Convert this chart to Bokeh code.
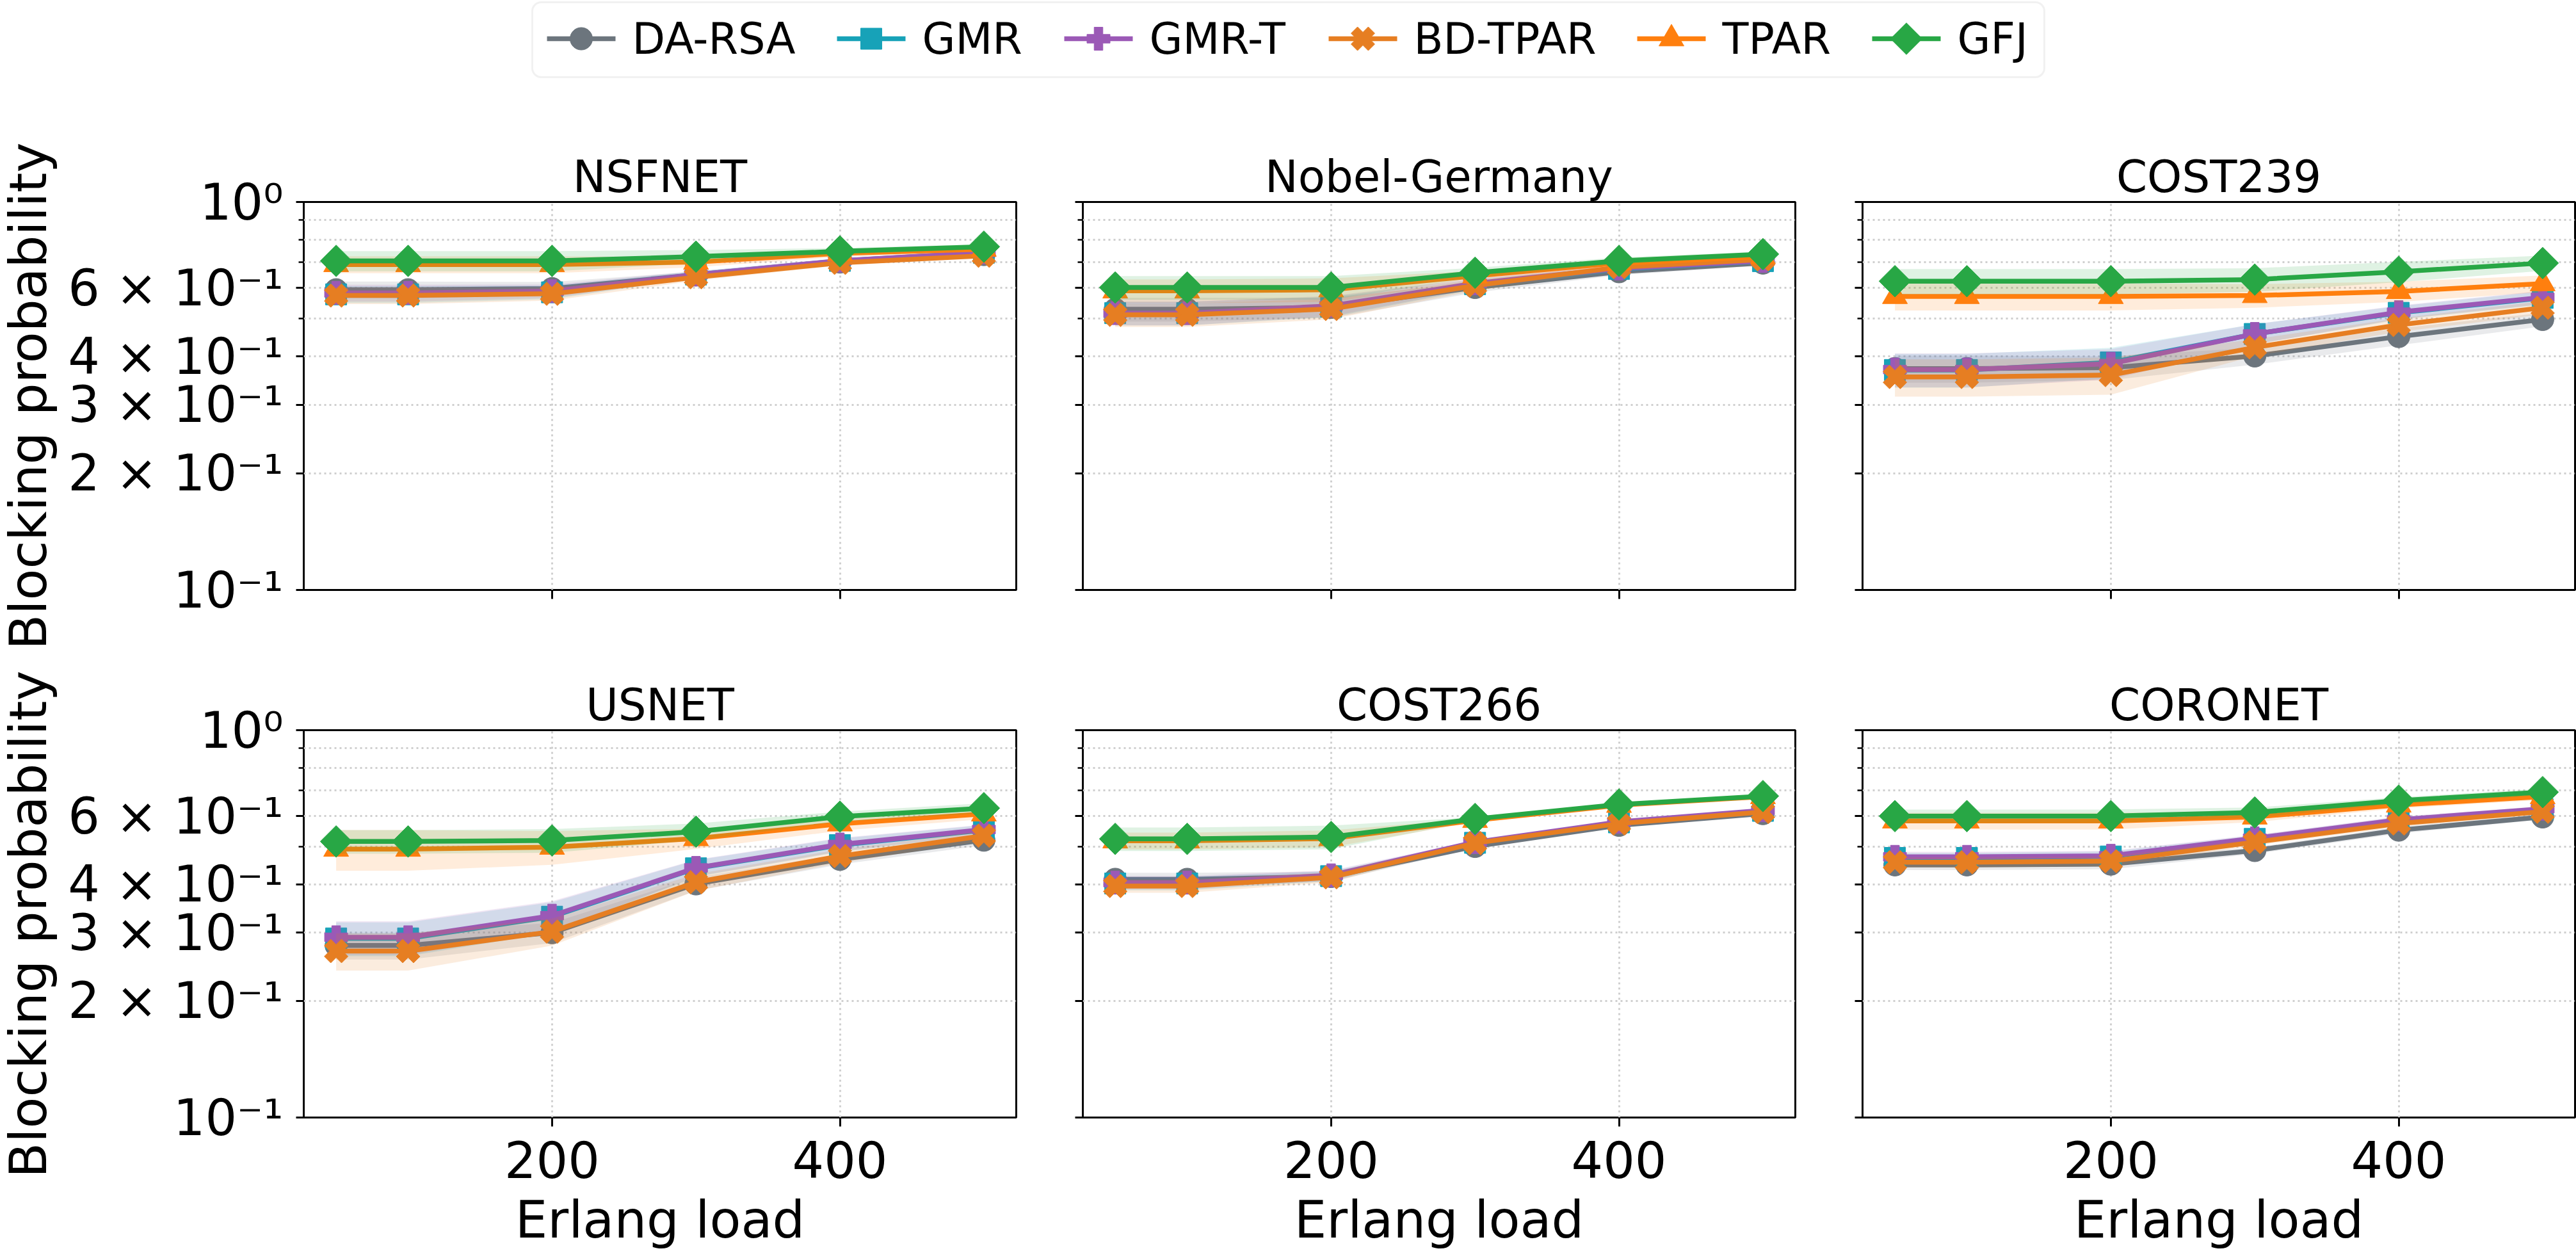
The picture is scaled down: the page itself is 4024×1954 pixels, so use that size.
from math import pi

from bokeh.core.properties import value
from bokeh.embed import file_html
from bokeh.layouts import column, row
from bokeh.models import BoxAnnotation, FixedTicker, Range1d
from bokeh.plotting import figure
from bokeh.resources import INLINE

# ---------------------------------------------------------------- data
loads = [50, 100, 200, 300, 400, 500]
methods = ["DA-RSA", "GMR", "GMR-T", "BD-TPAR", "TPAR", "GFJ"]
topologies = ["NSFNET", "Nobel-Germany", "COST239", "USNET", "COST266", "CORONET"]

# mean blocking probability per method
nsfnet = {
    "DA-RSA": [0.594, 0.594, 0.598, 0.649, 0.700, 0.732],
    "GMR": [0.578, 0.578, 0.585, 0.650, 0.705, 0.740],
    "GMR-T": [0.583, 0.583, 0.589, 0.650, 0.706, 0.741],
    "BD-TPAR": [0.574, 0.574, 0.580, 0.640, 0.697, 0.727],
    "TPAR": [0.690, 0.690, 0.690, 0.700, 0.737, 0.756],
    "GFJ": [0.705, 0.705, 0.705, 0.723, 0.746, 0.767],
}
nobel_germany = {
    "DA-RSA": [0.529, 0.529, 0.535, 0.602, 0.661, 0.696],
    "GMR": [0.517, 0.517, 0.537, 0.614, 0.672, 0.704],
    "GMR-T": [0.517, 0.517, 0.540, 0.617, 0.674, 0.705],
    "BD-TPAR": [0.512, 0.512, 0.530, 0.609, 0.679, 0.711],
    "TPAR": [0.590, 0.590, 0.594, 0.645, 0.696, 0.723],
    "GFJ": [0.602, 0.602, 0.602, 0.657, 0.705, 0.734],
}
cost239 = {
    "DA-RSA": [0.372, 0.372, 0.374, 0.401, 0.450, 0.498],
    "GMR": [0.369, 0.369, 0.386, 0.457, 0.518, 0.566],
    "GMR-T": [0.370, 0.370, 0.383, 0.457, 0.520, 0.568],
    "BD-TPAR": [0.354, 0.354, 0.358, 0.422, 0.482, 0.534],
    "TPAR": [0.571, 0.571, 0.571, 0.574, 0.588, 0.616],
    "GFJ": [0.625, 0.625, 0.625, 0.631, 0.661, 0.696],
}
usnet = {
    "DA-RSA": [0.278, 0.278, 0.300, 0.401, 0.464, 0.520],
    "GMR": [0.290, 0.290, 0.330, 0.440, 0.505, 0.552],
    "GMR-T": [0.292, 0.292, 0.332, 0.441, 0.507, 0.554],
    "BD-TPAR": [0.269, 0.269, 0.302, 0.405, 0.473, 0.534],
    "TPAR": [0.493, 0.493, 0.499, 0.525, 0.573, 0.608],
    "GFJ": [0.516, 0.516, 0.519, 0.547, 0.598, 0.629],
}
cost266 = {
    "DA-RSA": [0.412, 0.412, 0.419, 0.501, 0.568, 0.609],
    "GMR": [0.402, 0.402, 0.420, 0.512, 0.578, 0.619],
    "GMR-T": [0.404, 0.404, 0.422, 0.514, 0.580, 0.621],
    "BD-TPAR": [0.396, 0.396, 0.417, 0.511, 0.574, 0.615],
    "TPAR": [0.518, 0.518, 0.525, 0.585, 0.640, 0.674],
    "GFJ": [0.524, 0.524, 0.530, 0.590, 0.643, 0.676],
}
coronet = {
    "DA-RSA": [0.449, 0.449, 0.451, 0.489, 0.552, 0.597],
    "GMR": [0.468, 0.468, 0.472, 0.524, 0.585, 0.625],
    "GMR-T": [0.471, 0.471, 0.474, 0.526, 0.587, 0.627],
    "BD-TPAR": [0.456, 0.456, 0.459, 0.514, 0.574, 0.616],
    "TPAR": [0.583, 0.583, 0.583, 0.597, 0.641, 0.674],
    "GFJ": [0.600, 0.600, 0.600, 0.613, 0.658, 0.692],
}

# relative half-width of the confidence band per method
nsfnet_spread = {
    "DA-RSA": [0.05, 0.05, 0.04, 0.02, 0.015, 0.01],
    "GMR": [0.05, 0.05, 0.04, 0.02, 0.015, 0.01],
    "GMR-T": [0.05, 0.05, 0.04, 0.02, 0.015, 0.01],
    "BD-TPAR": [0.05, 0.05, 0.04, 0.02, 0.015, 0.01],
    "TPAR": [0.05, 0.05, 0.05, 0.03, 0.02, 0.015],
    "GFJ": [0.06, 0.06, 0.06, 0.04, 0.02, 0.015],
}
nobel_germany_spread = {
    "DA-RSA": [0.07, 0.07, 0.06, 0.03, 0.02, 0.015],
    "GMR": [0.07, 0.07, 0.06, 0.03, 0.02, 0.015],
    "GMR-T": [0.07, 0.07, 0.06, 0.03, 0.02, 0.015],
    "BD-TPAR": [0.07, 0.07, 0.06, 0.03, 0.02, 0.015],
    "TPAR": [0.07, 0.07, 0.07, 0.03, 0.02, 0.015],
    "GFJ": [0.07, 0.07, 0.07, 0.03, 0.02, 0.015],
}
cost239_spread = {
    "DA-RSA": [0.08, 0.08, 0.07, 0.05, 0.05, 0.04],
    "GMR": [0.10, 0.10, 0.09, 0.06, 0.04, 0.04],
    "GMR-T": [0.10, 0.10, 0.09, 0.06, 0.04, 0.04],
    "BD-TPAR": [0.11, 0.11, 0.11, 0.05, 0.04, 0.04],
    "TPAR": [0.08, 0.08, 0.08, 0.07, 0.06, 0.05],
    "GFJ": [0.075, 0.075, 0.075, 0.07, 0.06, 0.045],
}
usnet_spread = {
    "DA-RSA": [0.08, 0.08, 0.06, 0.04, 0.03, 0.03],
    "GMR": [0.10, 0.10, 0.09, 0.05, 0.04, 0.03],
    "GMR-T": [0.10, 0.10, 0.09, 0.05, 0.04, 0.03],
    "BD-TPAR": [0.11, 0.11, 0.08, 0.05, 0.04, 0.03],
    "TPAR": [0.12, 0.12, 0.10, 0.06, 0.04, 0.03],
    "GFJ": [0.07, 0.07, 0.07, 0.05, 0.03, 0.03],
}
cost266_spread = {
    "DA-RSA": [0.04, 0.04, 0.03, 0.01, 0.01, 0.01],
    "GMR": [0.04, 0.04, 0.03, 0.01, 0.01, 0.01],
    "GMR-T": [0.04, 0.04, 0.03, 0.01, 0.01, 0.01],
    "BD-TPAR": [0.04, 0.04, 0.03, 0.01, 0.01, 0.01],
    "TPAR": [0.05, 0.05, 0.05, 0.01, 0.01, 0.01],
    "GFJ": [0.07, 0.07, 0.07, 0.01, 0.01, 0.01],
}
coronet_spread = {
    "DA-RSA": [0.03, 0.03, 0.03, 0.02, 0.02, 0.015],
    "GMR": [0.03, 0.03, 0.03, 0.02, 0.02, 0.015],
    "GMR-T": [0.03, 0.03, 0.03, 0.02, 0.02, 0.015],
    "BD-TPAR": [0.03, 0.03, 0.03, 0.02, 0.02, 0.015],
    "TPAR": [0.05, 0.05, 0.05, 0.03, 0.02, 0.02],
    "GFJ": [0.04, 0.04, 0.04, 0.03, 0.02, 0.02],
}

panel_means = [nsfnet, nobel_germany, cost239, usnet, cost266, coronet]
panel_spreads = [nsfnet_spread, nobel_germany_spread, cost239_spread,
                 usnet_spread, cost266_spread, coronet_spread]

y_tick_labels = {0.1: "10⁻¹", 0.2: "2 × 10⁻¹", 0.3: "3 × 10⁻¹",
                 0.4: "4 × 10⁻¹", 0.6: "6 × 10⁻¹", 1.0: "10⁰"}
x_tick_values = [200, 400]
y_label = "Blocking probability"
x_label = "Erlang load"

# ---------------------------------------------------------------- style
FONT = "DejaVu Sans"
colors = {"DA-RSA": "#6c757d", "GMR": "#17a2b8", "GMR-T": "#9b59b6",
          "BD-TPAR": "#e67e22", "TPAR": "#ff7f0e", "GFJ": "#28a745"}
marker_style = {  # marker, size, angle
    "DA-RSA": ("circle", 35, 0.0),
    "GMR": ("square", 33, 0.0),
    "GMR-T": ("plus", 36, 0.0),
    "BD-TPAR": ("plus", 38, pi / 4),
    "TPAR": ("triangle", 39, 0.0),
    "GFJ": ("square", 35, pi / 4),
}
LINE_W = 7.5
FRAME_W, FRAME_H = 1113, 606
LEGEND_H = 140
STRIP_W = 100
PAGE_H = 1954
GRID_COLOR = "#cfcfcf"


def hide_labels(ax):
    ax.major_label_text_color = None
    ax.major_label_text_font_size = "1px"
    ax.major_label_standoff = 0


def make_panel(idx):
    r, c = divmod(idx, 3)
    left = [474 - STRIP_W, 52, 52][c]
    right = [52, 53, 2][c]
    top = 175 if r == 0 else 159
    bottom = 60 if r == 0 else 208
    p = figure(
        width=left + FRAME_W + right, height=top + FRAME_H + bottom,
        x_range=Range1d(27.5, 522.5), y_range=Range1d(0.1, 1.0),
        y_axis_type="log", output_backend="svg", toolbar_location=None,
        min_border_left=left, min_border_right=right,
        min_border_top=top, min_border_bottom=bottom,
        title=topologies[idx],
    )
    p.title.text_font = FONT
    p.title.text_font_size = "69px"
    p.title.text_font_style = "normal"
    p.title.text_color = "black"
    p.title.align = "center"
    p.title.standoff = 0
    p.outline_line_color = "black"
    p.outline_line_width = 3
    p.background_fill_color = "white"
    p.border_fill_color = "white"

    means = panel_means[idx]
    spreads = panel_spreads[idx]
    for m in methods:
        ys = means[m]
        lo = [v * (1 - s) for v, s in zip(ys, spreads[m])]
        hi = [v * (1 + s) for v, s in zip(ys, spreads[m])]
        p.varea(x=loads, y1=lo, y2=hi, fill_color=colors[m], fill_alpha=0.15)
        p.line(loads, ys, line_color=colors[m], line_width=LINE_W)
        mk, sz, ang = marker_style[m]
        p.scatter(loads, ys, marker=mk, size=sz, angle=ang,
                  fill_color=colors[m], line_color=colors[m], line_width=1)

    # y axis: log scale with labelled minor positions
    yax = p.yaxis[0]
    yax.ticker = FixedTicker(ticks=[0.1, 0.2, 0.3, 0.4, 0.6, 1.0],
                             minor_ticks=[0.5, 0.7, 0.8, 0.9])
    yax.major_label_overrides = y_tick_labels
    yax.axis_line_color = None
    yax.major_tick_in = 0
    yax.major_tick_out = 12
    yax.major_tick_line_width = 3
    yax.major_tick_line_color = "black"
    yax.minor_tick_in = 0
    yax.minor_tick_out = 8
    yax.minor_tick_line_width = 2.5
    yax.minor_tick_line_color = "black"
    yax.major_label_text_font = FONT
    if c == 0:
        yax.major_label_text_font_size = "78px"
        yax.major_label_text_color = "black"
        yax.major_label_standoff = 20
    else:
        hide_labels(yax)

    xax = p.xaxis[0]
    xax.ticker = FixedTicker(ticks=x_tick_values, minor_ticks=[])
    xax.axis_line_color = None
    xax.major_tick_in = 0
    xax.major_tick_out = 14
    xax.major_tick_line_width = 3
    xax.major_tick_line_color = "black"
    xax.minor_tick_line_color = None
    xax.major_label_text_font = FONT
    if r == 1:
        xax.major_label_text_font_size = "78px"
        xax.major_label_text_color = "black"
        xax.major_label_standoff = 22
        xax.axis_label = x_label
        xax.axis_label_text_font = FONT
        xax.axis_label_text_font_size = "80px"
        xax.axis_label_text_font_style = "normal"
        xax.axis_label_text_color = "black"
        xax.axis_label_standoff = 16
    else:
        hide_labels(xax)

    for g in (p.xgrid[0], p.ygrid[0]):
        g.grid_line_color = GRID_COLOR
        g.grid_line_width = 3
        g.grid_line_dash = "3 5"
    p.ygrid[0].minor_grid_line_color = GRID_COLOR
    p.ygrid[0].minor_grid_line_width = 3
    p.ygrid[0].minor_grid_line_dash = "3 5"
    return p


panels = [make_panel(i) for i in range(6)]

# ---------------------------------------------------------------- y label strip
strip_h = PAGE_H - LEGEND_H
strip = figure(width=STRIP_W, height=strip_h, x_range=Range1d(0, STRIP_W),
               y_range=Range1d(0, strip_h), output_backend="svg",
               toolbar_location=None, min_border=0)
strip.axis.visible = False
strip.grid.visible = False
strip.outline_line_color = None
row_top_1 = 175
row_top_2 = 175 + FRAME_H + 60 + 159
label_y = [strip_h - (row_top_1 + FRAME_H / 2), strip_h - (row_top_2 + FRAME_H / 2)]
strip.text([44, 44], label_y, text=[y_label, y_label], angle=pi / 2,
           text_font=value(FONT), text_font_size="80px", text_align="center",
           text_baseline="alphabetic", text_color="black")

# ---------------------------------------------------------------- legend strip
leg = figure(width=4024, height=LEGEND_H, x_range=Range1d(0, 4024),
             y_range=Range1d(0, LEGEND_H), output_backend="svg",
             toolbar_location=None, min_border=0)
leg.axis.visible = False
leg.grid.visible = False
leg.outline_line_color = None
leg.add_layout(BoxAnnotation(left=831, right=3193, bottom=20, top=137,
                             fill_color="white", fill_alpha=1.0,
                             line_color="#d0d0d0", line_width=3,
                             border_radius=14, level="underlay"))
entry_x = [854, 1307, 1662, 2075, 2557, 2924]  # handle start of each entry
HANDLE_LEN = 107
LEG_Y = 80
for m, x0 in zip(methods, entry_x):
    leg.line([x0, x0 + HANDLE_LEN], [LEG_Y, LEG_Y], line_color=colors[m],
             line_width=LINE_W)
    mk, sz, ang = marker_style[m]
    leg.scatter([x0 + HANDLE_LEN / 2], [LEG_Y], marker=mk, size=sz, angle=ang,
                fill_color=colors[m], line_color=colors[m], line_width=1)
    leg.text([x0 + HANDLE_LEN + 26], [LEG_Y], text=[m], text_font=value(FONT),
             text_font_size="67px", text_baseline="middle", text_align="left",
             text_color="black")

layout = column(leg, row(strip, column(row(*panels[:3]), row(*panels[3:]))))

open("out.html", "w").write(file_html(layout, INLINE))
